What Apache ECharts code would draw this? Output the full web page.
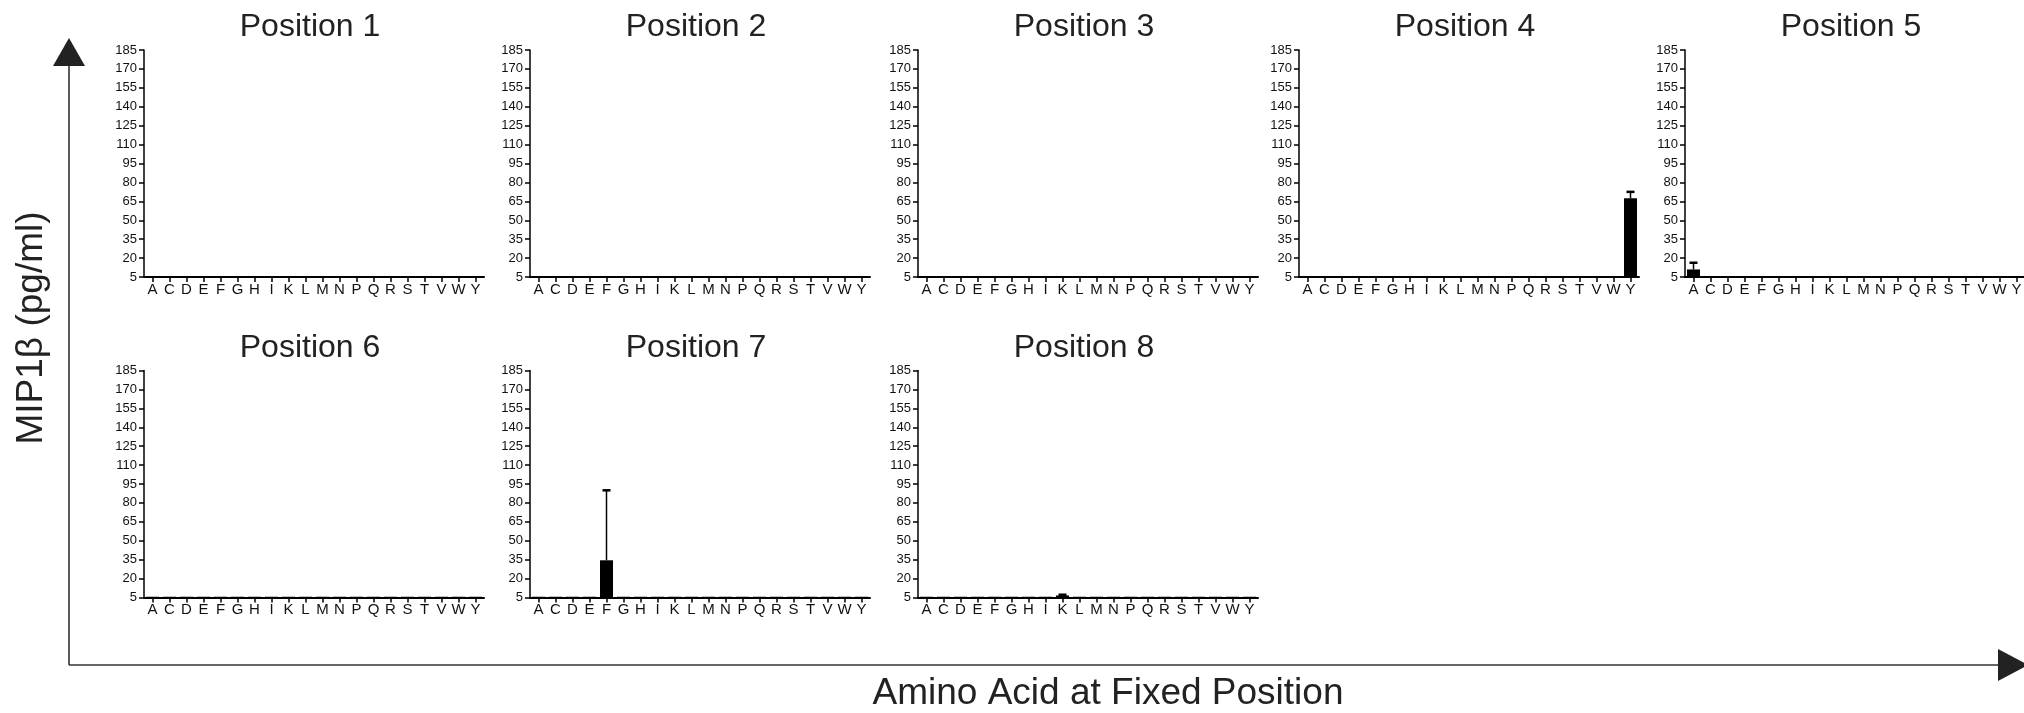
<!DOCTYPE html>
<html>
<head>
<meta charset="utf-8">
<script src="https://cdn.jsdelivr.net/npm/echarts@6/dist/echarts.min.js"></script>
<style>
html,body{margin:0;padding:0;background:#fff;}
#c{width:2024px;height:713px;}
</style>
</head>
<body>
<div id="c"></div>
<script>
// ---- data ----
const categories = ['A','C','D','E','F','G','H','I','K','L','M','N','P','Q','R','S','T','V','W','Y'];
const yTicks = [5,20,35,50,65,80,95,110,125,140,155,170,185];
const titles = ['Position 1','Position 2','Position 3','Position 4','Position 5','Position 6','Position 7','Position 8'];
const yAxisTitle = 'MIP1β (pg/ml)';
const xAxisTitle = 'Amino Acid at Fixed Position';

const pos1 = [5.6,5.6,5.6,5.6,5.6,5.6,5.6,5.6,5.6,5.6,5.6,5.6,5.6,5.6,5.6,5.6,5.6,5.6,5.6,5.6];
const pos2 = [5.5,5.5,5.5,5.5,5.5,5.5,5.5,5.5,5.5,5.5,5.5,5.5,5.5,5.5,5.5,5.5,5.5,5.5,5.5,5.5];
const pos3 = [5.5,5.5,5.5,5.5,5.5,5.5,5.5,5.5,5.5,5.5,5.5,5.5,5.5,5.5,5.5,5.5,5.5,5.5,5.5,5.5];
const pos4 = [5.5,5.5,5.5,5.5,5.5,5.5,5.5,5.5,5.5,5.5,5.5,5.5,5.5,5.5,5.5,5.5,5.5,5.5,5.5,67.5];
const pos5 = [11,5.8,5.8,5.8,5.8,5.8,5.8,5.8,5.8,5.8,5.8,5.8,5.8,5.8,5.8,5.8,5.8,5.8,5.8,5.8];
const pos6 = [5.6,5.6,5.6,5.6,5.6,5.6,5.6,5.6,5.6,5.6,5.6,5.6,5.6,5.6,5.6,5.6,5.6,5.6,5.6,5.6];
const pos7 = [5.6,5.6,5.6,5.6,34.5,5.6,5.6,5.6,5.6,5.6,5.6,5.6,5.6,5.6,5.6,5.6,5.6,5.6,5.6,5.6];
const pos8 = [5.6,5.6,5.6,5.6,5.6,5.6,5.6,5.6,6.6,5.6,5.6,5.6,5.6,5.6,5.6,5.6,5.6,5.6,5.6,5.6];

const err1 = [0,0,0,0,0,0,0,0,0,0,0,0,0,0,0,0,0,0,0,0];
const err2 = [0,0,0,0,0,0,0,0,0,0,0,0,0,0,0,0,0,0,0,0];
const err3 = [0,0,0,0,0,0,0,0,0,0,0,0,0,0,0,0,0,0,0,0];
const err4 = [0,0,0,0,0,0,0,0,0,0,0,0,0,0,0,0,0,0,0,5];
const err5 = [5.3,0,0,0,0,0,0,0,0,0,0,0,0,0,0,0,0,0,0,0];
const err6 = [0,0,0,0,0,0,0,0,0,0,0,0,0,0,0,0,0,0,0,0];
const err7 = [0,0,0,0,55.5,0,0,0,0,0,0,0,0,0,0,0,0,0,0,0];
const err8 = [0,0,0,0,0,0,0,0,0.6,0,0,0,0,0,0,0,0,0,0,0];

const means = [pos1,pos2,pos3,pos4,pos5,pos6,pos7,pos8];
const errs = [err1,err2,err3,err4,err5,err6,err7,err8];

// ---- layout ----
const FONT = '"Liberation Sans", Arial, Helvetica, sans-serif';
const panelLeft = [144, 530, 918, 1299, 1685, 144, 530, 918];
const panelTop = [50, 50, 50, 50, 50, 370.5, 370.5, 370.5];
const panelW = 340, panelH = 227;

const chart = echarts.init(document.getElementById('c'), null, {renderer: 'canvas'});

const grids = [], xAxes = [], yAxes = [], series = [], graphics = [];
for (let i = 0; i < 8; i++) {
  grids.push({left: panelLeft[i], top: panelTop[i], width: panelW, height: panelH, containLabel: false, outerBoundsMode: 'none'});
  xAxes.push({
    type: 'category', gridIndex: i, data: categories, boundaryGap: true,
    axisLine: {show: true, lineStyle: {color: '#000', width: 2}},
    axisTick: {show: true, alignWithLabel: true, interval: 0, length: 5, lineStyle: {color: '#000', width: 1.5}},
    axisLabel: {interval: 0, fontSize: 15, margin: 5, color: '#111', fontFamily: FONT},
    splitLine: {show: false}
  });
  yAxes.push({
    type: 'value', gridIndex: i, min: 5, max: 185,
    axisLine: {show: true, lineStyle: {color: '#000', width: 1.5}},
    axisTick: {show: true, length: 5, customValues: yTicks, lineStyle: {color: '#000', width: 1.5}},
    axisLabel: {customValues: yTicks, fontSize: 13, margin: 7, color: '#111', fontFamily: FONT},
    splitLine: {show: false}
  });
  series.push({
    type: 'bar', xAxisIndex: i, yAxisIndex: i, data: means[i], barWidth: 13,
    itemStyle: {color: '#000'}, clip: true, silent: true
  });
  const errData = [];
  for (let k = 0; k < categories.length; k++) {
    if (errs[i][k] > 0) errData.push([k, means[i][k], errs[i][k]]);
  }
  series.push({
    type: 'custom', xAxisIndex: i, yAxisIndex: i, data: errData, silent: true, clip: false,
    renderItem: function (params, api) {
      const idx = api.value(0), m = api.value(1), e = api.value(2);
      const p0 = api.coord([idx, m]);
      const p1 = api.coord([idx, m + e]);
      const half = 4;
      return {
        type: 'group',
        children: [
          {type: 'line', shape: {x1: p0[0], y1: p0[1], x2: p1[0], y2: p1[1]}, style: {stroke: '#000', lineWidth: 1.5}},
          {type: 'line', shape: {x1: p1[0] - half, y1: p1[1], x2: p1[0] + half, y2: p1[1]}, style: {stroke: '#000', lineWidth: 2.5}}
        ]
      };
    }
  });
  const row = i < 5 ? 0 : 1;
  graphics.push({
    type: 'text', x: panelLeft[i] + 166, y: row === 0 ? 27 : 348,
    style: {text: titles[i], font: '32px ' + FONT, fill: '#222', textAlign: 'center', textVerticalAlign: 'middle', align: 'center', verticalAlign: 'middle'}
  });
}

// big axis arrows and titles
graphics.push({type: 'line', shape: {x1: 69, y1: 62, x2: 69, y2: 665}, style: {stroke: '#333', lineWidth: 1.6}});
graphics.push({type: 'polygon', shape: {points: [[69, 38], [53, 66], [85, 66]]}, style: {fill: '#222'}});
graphics.push({type: 'line', shape: {x1: 69, y1: 665, x2: 2002, y2: 665}, style: {stroke: '#333', lineWidth: 1.6}});
graphics.push({type: 'polygon', shape: {points: [[2028, 665], [1998, 649], [1998, 681]]}, style: {fill: '#222'}});
graphics.push({
  type: 'text', x: 32, y: 328, rotation: Math.PI / 2,
  style: {text: yAxisTitle, font: '37px ' + FONT, fill: '#222', textAlign: 'center', textVerticalAlign: 'middle', align: 'center', verticalAlign: 'middle'}
});
graphics.push({
  type: 'text', x: 1108, y: 694,
  style: {text: xAxisTitle, font: '37px ' + FONT, fill: '#222', textAlign: 'center', textVerticalAlign: 'middle', align: 'center', verticalAlign: 'middle'}
});

chart.setOption({
  animation: false,
  backgroundColor: '#fff',
  textStyle: {fontFamily: FONT},
  grid: grids,
  xAxis: xAxes,
  yAxis: yAxes,
  series: series,
  graphic: {elements: graphics}
});
</script>
</body>
</html>
